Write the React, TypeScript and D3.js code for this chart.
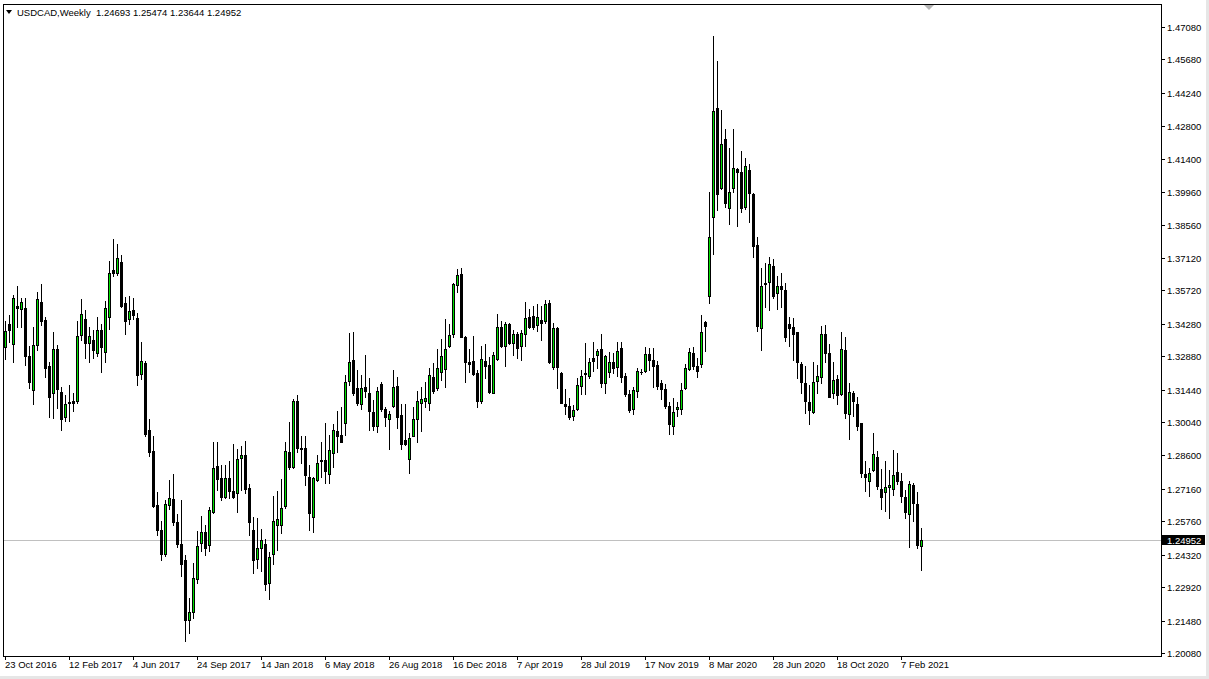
import React from 'react';
import * as d3 from 'd3';

const W = 1209;
const H = 679;

const symbolTitle = 'USDCAD,Weekly';
const headerValues = ['1.24693', '1.25474', '1.23644', '1.24952'];
const bidPrice = 1.24952;
const firstWeek = '23 Oct 2016';

const openP = [
  1.3327, 1.3426, 1.3340, 1.3504, 1.3493, 1.3496, 1.3290, 1.3142, 1.3336, 1.3522,
  1.3445, 1.3246, 1.3131, 1.3320, 1.3134, 1.3025, 1.3091, 1.3096, 1.3093, 1.3379,
  1.3448, 1.3344, 1.3359, 1.3304, 1.3402, 1.3308, 1.3459, 1.3660, 1.3649, 1.3693,
  1.3517, 1.3448, 1.3488, 1.3452, 1.3212, 1.3258, 1.2971, 1.2880, 1.2647, 1.2540,
  1.2435, 1.2647, 1.2672, 1.2573, 1.2479, 1.2410, 1.2150, 1.2185, 1.2328, 1.2482,
  1.2529, 1.2472, 1.2616, 1.2815, 1.2762, 1.2683, 1.2762, 1.2707, 1.2697, 1.2851,
  1.2861, 1.2719, 1.2539, 1.2413, 1.2460, 1.2479, 1.2309, 1.2436, 1.2558, 1.2561,
  1.2643, 1.2874, 1.2812, 1.3093, 1.2894, 1.2894, 1.2769, 1.2593, 1.2755, 1.2834,
  1.2841, 1.2779, 1.2870, 1.2966, 1.2949, 1.2999, 1.3183, 1.3272, 1.3150, 1.3081,
  1.3154, 1.3129, 1.3047, 1.2989, 1.3169, 1.3060, 1.3017, 1.3075, 1.3160, 1.3035,
  1.2927, 1.2844, 1.2946, 1.3017, 1.3088, 1.3094, 1.3085, 1.3200, 1.3150, 1.3218,
  1.3232, 1.3334, 1.3383, 1.3596, 1.3643, 1.3373, 1.3264, 1.3268, 1.3215, 1.3093,
  1.3268, 1.3251, 1.3131, 1.3275, 1.3413, 1.3330, 1.3426, 1.3347, 1.3384, 1.3330,
  1.3384, 1.3456, 1.3462, 1.3423, 1.3445, 1.3440, 1.3516, 1.3241, 1.3409, 1.3215,
  1.3083, 1.3074, 1.3031, 1.3061, 1.3161, 1.3216, 1.3203, 1.3281, 1.3292, 1.3318,
  1.3171, 1.3218, 1.3261, 1.3241, 1.3322, 1.3203, 1.3126, 1.3059, 1.3136, 1.3219,
  1.3225, 1.3297, 1.3272, 1.3250, 1.3172, 1.3147, 1.3074, 1.2988, 1.3059, 1.3061,
  1.3150, 1.3233, 1.3301, 1.3248, 1.3255, 1.3437, 1.3546, 1.3888, 1.4357, 1.4012,
  1.4224, 1.3926, 1.4012, 1.4094, 1.4082, 1.3933, 1.4092, 1.3988, 1.3768, 1.3409,
  1.3600, 1.3610, 1.3678, 1.3560, 1.3589, 1.3574, 1.3426, 1.3412, 1.3392, 1.3255,
  1.3172, 1.3090, 1.3049, 1.3182, 1.3198, 1.3384, 1.3301, 1.3129, 1.3189, 1.3126,
  1.3315, 1.3038, 1.3129, 1.3083, 1.2999, 1.2781, 1.2752, 1.2798, 1.2853, 1.2716,
  1.2701, 1.2726, 1.2715, 1.2788, 1.2752, 1.2683, 1.2607, 1.2733, 1.2651, 1.24693,
];

const highP = [
  1.3438, 1.3466, 1.3550, 1.3591, 1.3538, 1.3538, 1.3330, 1.3416, 1.3567, 1.3600,
  1.3459, 1.3265, 1.3394, 1.3337, 1.3157, 1.3121, 1.3165, 1.3129, 1.3438, 1.3535,
  1.3488, 1.3416, 1.3402, 1.3456, 1.3427, 1.3527, 1.3699, 1.3794, 1.3772, 1.3725,
  1.3545, 1.3548, 1.3538, 1.3474, 1.3348, 1.3269, 1.3017, 1.2945, 1.2702, 1.2578,
  1.2666, 1.2755, 1.2781, 1.2608, 1.2666, 1.2429, 1.2245, 1.2396, 1.2536, 1.2600,
  1.2561, 1.2636, 1.2920, 1.2920, 1.2819, 1.2819, 1.2838, 1.2910, 1.2887, 1.2901,
  1.2923, 1.2738, 1.2594, 1.2592, 1.2542, 1.2500, 1.2442, 1.2686, 1.2705, 1.2758,
  1.2920, 1.3006, 1.3104, 1.3121, 1.2942, 1.2942, 1.2820, 1.2769, 1.2863, 1.2920,
  1.3002, 1.2949, 1.2996, 1.3050, 1.3068, 1.3208, 1.3387, 1.3391, 1.3229, 1.3208,
  1.3294, 1.3196, 1.3100, 1.3157, 1.3179, 1.3071, 1.3050, 1.3229, 1.3200, 1.3083,
  1.3081, 1.2956, 1.3071, 1.3136, 1.3157, 1.3179, 1.3236, 1.3258, 1.3318, 1.3363,
  1.3448, 1.3427, 1.3606, 1.3665, 1.3667, 1.3376, 1.3318, 1.3376, 1.3229, 1.3333,
  1.3340, 1.3284, 1.3305, 1.3470, 1.3440, 1.3437, 1.3430, 1.3402, 1.3394, 1.3399,
  1.3521, 1.3492, 1.3505, 1.3512, 1.3505, 1.3531, 1.3531, 1.3433, 1.3416, 1.3218,
  1.3146, 1.3107, 1.3078, 1.3193, 1.3229, 1.3344, 1.3279, 1.3348, 1.3318, 1.3384,
  1.3294, 1.3308, 1.3301, 1.3351, 1.3348, 1.3215, 1.3143, 1.3157, 1.3236, 1.3232,
  1.3327, 1.3322, 1.3322, 1.3269, 1.3186, 1.3169, 1.3092, 1.3107, 1.3092, 1.3172,
  1.3255, 1.3322, 1.3327, 1.3279, 1.3466, 1.3442, 1.3995, 1.4669, 1.4561, 1.4350,
  1.4267, 1.4185, 1.4268, 1.4099, 1.4175, 1.4145, 1.4117, 1.3991, 1.3801, 1.3670,
  1.3689, 1.3714, 1.3706, 1.3632, 1.3646, 1.3603, 1.3459, 1.3452, 1.3394, 1.3265,
  1.3244, 1.3164, 1.3265, 1.3251, 1.3419, 1.3423, 1.3341, 1.3265, 1.3208, 1.3394,
  1.3373, 1.3172, 1.3136, 1.3114, 1.3002, 1.2838, 1.2805, 1.2959, 1.2881, 1.2801,
  1.2837, 1.2798, 1.2884, 1.2870, 1.2786, 1.2712, 1.2748, 1.2740, 1.2704, 1.25474,
];

const lowP = [
  1.3275, 1.3351, 1.3261, 1.3416, 1.3416, 1.3251, 1.3150, 1.3081, 1.3316, 1.3423,
  1.3200, 1.3028, 1.3021, 1.3064, 1.2968, 1.3007, 1.3007, 1.3050, 1.3086, 1.3359,
  1.3280, 1.3265, 1.3280, 1.3287, 1.3222, 1.3261, 1.3406, 1.3636, 1.3639, 1.3499,
  1.3384, 1.3427, 1.3448, 1.3165, 1.3190, 1.2945, 1.2858, 1.2637, 1.2518, 1.2410,
  1.2427, 1.2628, 1.2561, 1.2465, 1.2338, 1.2061, 1.2095, 1.2160, 1.2312, 1.2446,
  1.2432, 1.2450, 1.2611, 1.2712, 1.2666, 1.2676, 1.2676, 1.2676, 1.2618, 1.2712,
  1.2697, 1.2515, 1.2355, 1.2374, 1.2360, 1.2281, 1.2242, 1.2393, 1.2453, 1.2525,
  1.2633, 1.2801, 1.2805, 1.2877, 1.2827, 1.2733, 1.2539, 1.2529, 1.2748, 1.2769,
  1.2741, 1.2741, 1.2812, 1.2877, 1.2916, 1.2949, 1.3164, 1.3121, 1.3078, 1.3060,
  1.3111, 1.2968, 1.2968, 1.2963, 1.3052, 1.2985, 1.2887, 1.3071, 1.2978, 1.2887,
  1.2903, 1.2784, 1.2942, 1.2916, 1.2966, 1.3071, 1.3054, 1.3129, 1.3143, 1.3186,
  1.3157, 1.3327, 1.3372, 1.3564, 1.3370, 1.3179, 1.3222, 1.3208, 1.3068, 1.3085,
  1.3193, 1.3131, 1.3129, 1.3272, 1.3327, 1.3247, 1.3341, 1.3294, 1.3280, 1.3272,
  1.3333, 1.3409, 1.3404, 1.3397, 1.3356, 1.3430, 1.3258, 1.3233, 1.3150, 1.3085,
  1.3039, 1.3018, 1.3013, 1.3056, 1.3126, 1.3124, 1.3196, 1.3225, 1.3239, 1.3157,
  1.3128, 1.3197, 1.3215, 1.3203, 1.3179, 1.3117, 1.3049, 1.3039, 1.3114, 1.3212,
  1.3219, 1.3229, 1.3157, 1.3147, 1.3103, 1.3064, 1.2952, 1.2953, 1.3031, 1.3038,
  1.3146, 1.3229, 1.3233, 1.3200, 1.3241, 1.3311, 1.3517, 1.3728, 1.3919, 1.4008,
  1.3931, 1.3857, 1.3998, 1.3850, 1.3908, 1.3923, 1.3865, 1.3714, 1.3395, 1.3313,
  1.3502, 1.3488, 1.3540, 1.3491, 1.3502, 1.3352, 1.3330, 1.3272, 1.3193, 1.3131,
  1.3045, 1.2995, 1.3045, 1.3129, 1.3172, 1.3265, 1.3110, 1.3107, 1.3081, 1.3121,
  1.3021, 1.2930, 1.3031, 1.2970, 1.2769, 1.2705, 1.2686, 1.2791, 1.2715, 1.2629,
  1.2622, 1.2589, 1.2690, 1.2736, 1.2661, 1.2592, 1.2467, 1.2578, 1.2460, 1.23644,
];

const closeP = [
  1.3397, 1.3399, 1.3538, 1.3498, 1.3522, 1.3287, 1.3179, 1.3337, 1.3534, 1.3438,
  1.3236, 1.3110, 1.3320, 1.3146, 1.3019, 1.3083, 1.3086, 1.3088, 1.3376, 1.3469,
  1.3344, 1.3374, 1.3313, 1.3402, 1.3327, 1.3495, 1.3646, 1.3649, 1.3711, 1.3505,
  1.3442, 1.3484, 1.3464, 1.3208, 1.3268, 1.2953, 1.2873, 1.2643, 1.2537, 1.2435,
  1.2650, 1.2677, 1.2575, 1.2476, 1.2390, 1.2150, 1.2185, 1.2331, 1.2470, 1.2529,
  1.2460, 1.2626, 1.2805, 1.2759, 1.2683, 1.2762, 1.2705, 1.2679, 1.2844, 1.2863,
  1.2717, 1.2575, 1.2407, 1.2460, 1.2495, 1.2307, 1.2421, 1.2578, 1.2587, 1.2633,
  1.2880, 1.2809, 1.3093, 1.2891, 1.2887, 1.2774, 1.2611, 1.2762, 1.2827, 1.2841,
  1.2791, 1.2884, 1.2970, 1.2946, 1.2920, 1.3179, 1.3262, 1.3128, 1.3085, 1.3150,
  1.3136, 1.3050, 1.2989, 1.3136, 1.3060, 1.3025, 1.3038, 1.3154, 1.3028, 1.2910,
  1.2909, 1.2935, 1.3017, 1.3095, 1.3103, 1.3106, 1.3208, 1.3140, 1.3236, 1.3287,
  1.3318, 1.3380, 1.3600, 1.3639, 1.3373, 1.3261, 1.3255, 1.3212, 1.3097, 1.3275,
  1.3244, 1.3133, 1.3294, 1.3413, 1.3334, 1.3426, 1.3347, 1.3384, 1.3323, 1.3387,
  1.3452, 1.3416, 1.3412, 1.3459, 1.3433, 1.3512, 1.3261, 1.3409, 1.3241, 1.3088,
  1.3075, 1.3025, 1.3054, 1.3164, 1.3203, 1.3210, 1.3263, 1.3269, 1.3311, 1.3171,
  1.3287, 1.3261, 1.3236, 1.3311, 1.3197, 1.3124, 1.3054, 1.3143, 1.3225, 1.3220,
  1.3297, 1.3272, 1.3248, 1.3161, 1.3146, 1.3074, 1.2996, 1.3049, 1.3068, 1.3143,
  1.3236, 1.3305, 1.3246, 1.3225, 1.3391, 1.3420, 1.3801, 1.4346, 1.3987, 1.4202,
  1.3951, 1.3998, 1.4099, 1.4084, 1.3926, 1.4109, 1.3994, 1.3765, 1.3420, 1.3589,
  1.3606, 1.3685, 1.3546, 1.3591, 1.3577, 1.3370, 1.3409, 1.3383, 1.3265, 1.3175,
  1.3097, 1.3057, 1.3176, 1.3203, 1.3383, 1.3304, 1.3114, 1.3185, 1.3119, 1.3320,
  1.3045, 1.3133, 1.3093, 1.2985, 1.2784, 1.2769, 1.2784, 1.2866, 1.2730, 1.2683,
  1.2726, 1.2733, 1.2776, 1.2748, 1.2686, 1.2614, 1.2738, 1.2654, 1.2472, 1.24952,
];

const priceTicks = [
  1.4708, 1.4568, 1.4424, 1.428, 1.414, 1.3996, 1.3856, 1.3712, 1.3572, 1.3428,
  1.3288, 1.3144, 1.3004, 1.286, 1.2716, 1.2576, 1.2432, 1.2292, 1.2148, 1.2008,
];

const timeLabels = [
  '23 Oct 2016', '12 Feb 2017', '4 Jun 2017', '24 Sep 2017', '14 Jan 2018',
  '6 May 2018', '26 Aug 2018', '16 Dec 2018', '7 Apr 2019', '28 Jul 2019',
  '17 Nov 2019', '8 Mar 2020', '28 Jun 2020', '18 Oct 2020', '7 Feb 2021',
];
const weeksPerLabel = 16;

const FONT = '"Liberation Sans", Arial, sans-serif';
const BULL = '#00e000';

export default function App() {
  const n = closeP.length;
  const plotLeft = 3;
  const plotRight = 1161;
  const plotTop = 4;
  const plotBottom = 656;

  const x = d3.scaleLinear().domain([0, n - 1]).range([5, 5 + 4 * (n - 1)]);
  const y = d3.scaleLinear().domain([1.2008, 1.4708]).range([653, 27]);

  const candles = d3.range(n).map((i) => {
    const cx = Math.round(x(i));
    const o = openP[i], h = highP[i], l = lowP[i], c = closeP[i];
    const top = Math.round(y(Math.max(o, c)));
    const bot = Math.round(y(Math.min(o, c)));
    const hy = Math.round(y(h));
    const ly = Math.round(y(l));
    const bull = c > o;
    return (
      <g key={i}>
        <rect x={cx} y={hy} width={1} height={ly - hy + 1} fill="#000" />
        <rect x={cx - 1} y={top} width={3} height={bot - top + 1} fill="#000" />
        {bull && bot - top - 1 > 0 && (
          <rect x={cx} y={top + 1} width={1} height={bot - top - 1} fill={BULL} />
        )}
      </g>
    );
  });

  const bidY = Math.round(y(bidPrice));
  const lastX = Math.round(x(n - 1));

  return (
    <svg
      width={W}
      height={H}
      viewBox={`0 0 ${W} ${H}`}
      style={{ position: 'absolute', left: 0, top: 0, background: '#fff' }}
      shapeRendering="crispEdges"
    >
      <rect x={0} y={0} width={W} height={H} fill="#fff" />
      {/* outer window edge */}
      <rect x={1206} y={0} width={3} height={H} fill="#e6e6e6" />
      <rect x={0} y={676} width={W} height={3} fill="#e6e6e6" />

      {/* bid line */}
      <rect x={plotLeft} y={bidY} width={plotRight - plotLeft} height={1} fill="#c0c0c0" />

      {/* candles */}
      {candles}

      {/* frame */}
      <rect x={plotLeft} y={plotTop} width={plotRight - plotLeft} height={1} fill="#000" />
      <rect x={plotLeft} y={plotTop} width={1} height={plotBottom - plotTop} fill="#000" />
      <rect x={plotRight} y={plotTop} width={1} height={plotBottom - plotTop + 1} fill="#000" />
      <rect x={plotLeft} y={plotBottom} width={plotRight - plotLeft + 1} height={1} fill="#000" />

      {/* chart shift marker */}
      <path d={`M${lastX + 3},5 L${lastX + 13},5 L${lastX + 8},10 Z`} fill="#b4b4b4" shapeRendering="auto" />

      {/* price axis */}
      {priceTicks.map((p) => {
        const yy = Math.round(y(p));
        return (
          <g key={p}>
            <rect x={plotRight + 1} y={yy} width={3} height={1} fill="#000" />
            <text
              x={1167}
              y={yy + 3.5}
              fontFamily={FONT}
              fontSize={9.5}
              fill="#000"
            >
              {p.toFixed(5)}
            </text>
          </g>
        );
      })}

      {/* bid label */}
      <rect x={1162} y={bidY - 5} width={43} height={10} fill="#000" />
      <text x={1167} y={bidY + 3.5} fontFamily={FONT} fontSize={9.5} fill="#fff">
        {bidPrice.toFixed(5)}
      </text>

      {/* time axis */}
      {timeLabels.map((t, k) => {
        const xx = Math.round(x(k * weeksPerLabel));
        return (
          <g key={t}>
            <rect x={xx} y={plotBottom + 1} width={1} height={3} fill="#000" />
            <text x={xx} y={668} fontFamily={FONT} fontSize={9.5} fill="#000">
              {t}
            </text>
          </g>
        );
      })}

      {/* header */}
      <path d="M6,10 L12,10 L9,14 Z" fill="#000" shapeRendering="auto" />
      <text x={17} y={16} fontFamily={FONT} fontSize={9.5} fill="#000" xmlSpace="preserve">
        {`${symbolTitle}  ${headerValues.join(' ')}`}
      </text>
      <desc>{`First bar: ${firstWeek}`}</desc>
    </svg>
  );
}
